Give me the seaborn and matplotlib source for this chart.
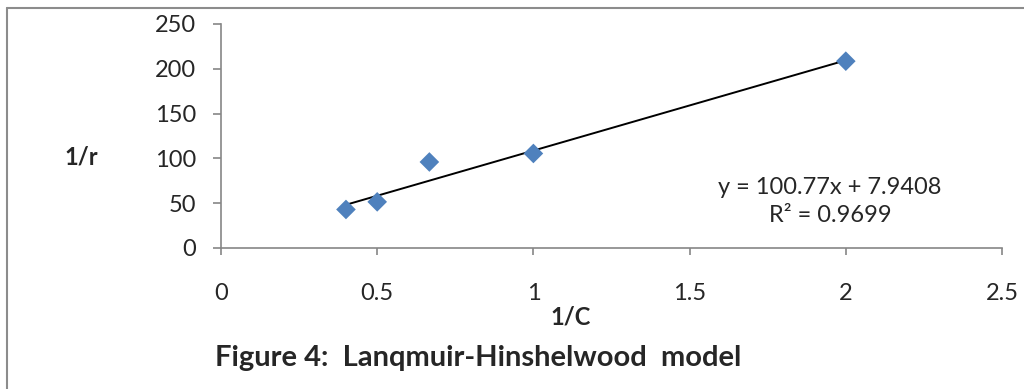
import numpy as np
import pandas as pd
import matplotlib
matplotlib.use("Agg")
import matplotlib.pyplot as plt
import seaborn as sns
from matplotlib.lines import Line2D

# data
inv_c = [0.4, 0.5, 0.667, 1.0, 2.0]
inv_r = [43, 51.5, 96, 105.5, 208.5]
x_ticks = [0, 0.5, 1, 1.5, 2, 2.5]
y_ticks = [0, 50, 100, 150, 200, 250]
slope, intercept = 100.77, 7.9408
eq_text = "y = 100.77x + 7.9408\nR² = 0.9699"
title = "Figure 4:  Lanqmuir-Hinshelwood  model"

df = pd.DataFrame({"inv_c": inv_c, "inv_r": inv_r})

sns.set_style("white")
plt.rcParams['font.family'] = ['Lato', 'DejaVu Sans']

fig = plt.figure(figsize=(10.24, 3.89), dpi=100)
ax = fig.add_axes([221 / 1024, 1 - 248 / 389, 781 / 1024, 224 / 389])

sns.scatterplot(data=df, x="inv_c", y="inv_r", marker="D", s=100,
                color="#4F81BD", edgecolor="none", ax=ax, zorder=3)

# linear trendline
xs = np.array([min(inv_c), max(inv_c)])
ax.plot(xs, slope * xs + intercept, color="black", lw=1.4, zorder=2)

ax.set_xlim(0, 2.5)
ax.set_ylim(0, 250)
ax.set_xticks(x_ticks)
ax.set_xticklabels(["0", "0.5", "1", "1.5", "2", "2.5"])
ax.set_yticks(y_ticks)

for side in ["top", "right"]:
    ax.spines[side].set_visible(False)
for side in ["left", "bottom"]:
    ax.spines[side].set_color("#868686")
    ax.spines[side].set_linewidth(1.2)

ax.tick_params(axis="y", direction="out", length=6, width=1.2, color="#868686",
               pad=12, labelsize=17, left=True)
ax.tick_params(axis="x", direction="out", length=5, width=1.2, color="#868686",
               pad=20, labelsize=17, bottom=True)

ax.set_xlabel("1/C", fontsize=17, fontweight="bold")
ax.xaxis.set_label_coords(0.448, -0.255)
ax.set_ylabel("1/r", fontsize=17, fontweight="bold", rotation=0, ha="center", va="center")
ax.yaxis.set_label_coords(-0.179, 0.406)

ax.text(0.78, 0.208, eq_text, transform=ax.transAxes, ha="center", va="center",
        fontsize=17, linespacing=1.4)

fig.text(215 / 1024, 1 - 358 / 389, title, fontsize=21, fontweight="bold",
         ha="left", va="center")

# chart frame (top and left edges visible)
fig.add_artist(Line2D([7 / 1024, 7 / 1024], [0, 1 - 7.5 / 389], color="#8c8c8c", lw=1.5))
fig.add_artist(Line2D([7 / 1024, 1], [1 - 7.5 / 389, 1 - 7.5 / 389], color="#8c8c8c", lw=1.5))

fig.savefig("out.png", dpi=100)
